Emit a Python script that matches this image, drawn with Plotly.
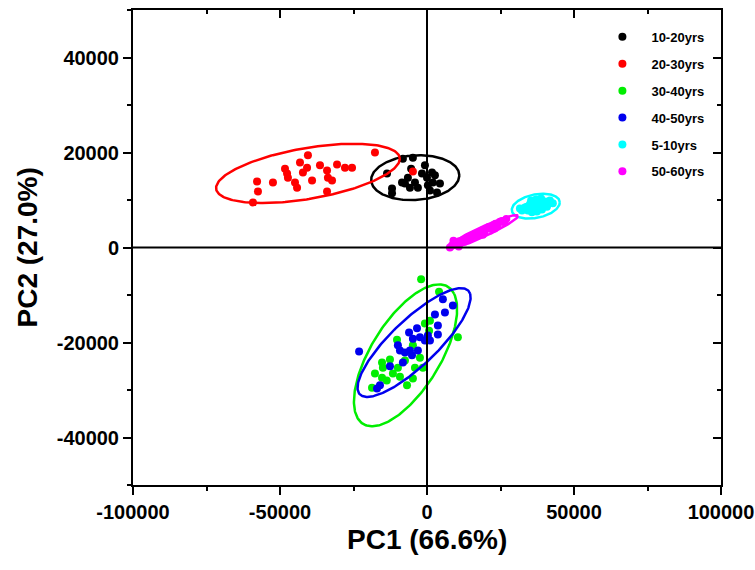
import numpy as np
import plotly.graph_objects as go

# ---------------- data ----------------
groups = ["10-20yrs", "20-30yrs", "30-40yrs", "40-50yrs", "5-10yrs", "50-60yrs"]
colors = ["#000000", "#ff0000", "#00ee00", "#0000ee", "#00ffff", "#ff00ff"]

pc1_10_20 = [-13600, -8200, -4800, -6500, -8500, -7500, -4100, -11900, -11900, -3100, 0,
             1700, 2700, 4400, 300, 1000, 3400, -5800, -1700, -5400, 2000, -700]
pc2_10_20 = [15600, 18700, 18900, 14700, 13700, 13500, 13700, 12400, 11400, 12600, 14700,
             15800, 15200, 13500, 13100, 12000, 11600, 12600, 15600, 16600, 13700, 17300]

pc1_20_30 = [-59200, -57500, -57800, -52400, -48300, -47600, -47300, -44900, -44200, -43200,
             -42200, -40500, -40800, -39100, -36400, -34000, -33700, -32300, -30600, -27900,
             -25500, -34000, -17700, -4800]
pc2_20_30 = [9500, 11800, 13900, 13700, 16600, 15600, 14700, 13700, 12600, 17900,
             15800, 19400, 16800, 14100, 17300, 16200, 14700, 14100, 17500, 16800,
             16800, 11800, 20000, 16000]

pc1_30_40 = [-2000, 4100, 1000, 700, 10500, -10200, -15300, -12600, -15000, -9900, -13700,
             -15300, -18700, -11600, -9200, -6800, -4800, -4100, -1400, -2400, -4800, -700,
             300, -17700, -7500]
pc2_30_40 = [-6700, -9300, -15400, -17500, -18900, -19400, -24200, -23600, -25300, -25300, -28000,
             -27400, -29500, -26500, -27200, -29000, -27600, -25300, -25300, -23200, -20600, -16000,
             -19200, -26500, -23800]

pc1_40_50 = [5400, 8800, 6100, 2700, 3700, 3700, 1000, -3400, -6100, -2400, -4800, -9900,
             -9200, -7500, -5800, -3100, -5100, -8200, -12600, -23100, -16000, -17000, -700, 300]
pc2_40_50 = [-10900, -12200, -13700, -14100, -16400, -18300, -19600, -17000, -17900, -18900, -19200, -20600,
             -21700, -22100, -21700, -21700, -22700, -24200, -25000, -21900, -29000, -29700, -19600, -18500]

pc1_5_10 = [33300, 35000, 36700, 38400, 40100, 34300, 36000, 37700, 39400, 41100, 32300,
            41800, 35700, 37400, 39100, 34000, 40800, 42800, 31600, 37100, 38800, 35400]
pc2_5_10 = [8400, 9100, 9300, 9500, 9700, 7800, 8200, 8400, 8800, 9100, 7800,
            9900, 7400, 7600, 8000, 8600, 8600, 9300, 8200, 10100, 10300, 9900]

pc1_50_60 = [7800, 8500, 9000, 9500, 10200, 10800, 11000, 12000, 12800, 13500, 14000, 14300,
             15000, 15800, 16500, 17200, 18000, 18800, 19000, 19500, 20300, 21000, 21800,
             22500, 23000, 23300, 24000, 24800, 25500, 26300, 27000]
pc2_50_60 = [0, 400, 1400, 900, 600, 200, 1300, 1500, 1200, 2000, 1500, 2200,
             1900, 2600, 2900, 2500, 3300, 3600, 2700, 3200, 4000, 4300, 3900,
             4700, 4000, 5000, 4600, 5400, 5600, 5300, 6000]

pc1_data = [pc1_10_20, pc1_20_30, pc1_30_40, pc1_40_50, pc1_5_10, pc1_50_60]
pc2_data = [pc2_10_20, pc2_20_30, pc2_30_40, pc2_40_50, pc2_5_10, pc2_50_60]

# confidence ellipses: centre x, centre y, semi-major, semi-minor, angle (deg)
ell_cx = [-4000, -40500, -7300, -4400, 37000, 19000]
ell_cy = [14700, 15600, -22700, -20000, 8700, 3300]
ell_a = [15000, 31400, 21000, 21650, 8200, 12400]
ell_b = [4700, 5400, 9500, 5700, 2500, 1100]
ell_ang = [2, 5.8, 38, 28.4, 6, 15.7]

x_major = [-100000, -50000, 0, 50000, 100000]
x_labels = ["-100000", "-50000", "0", "50000", "100000"]
y_major = [-40000, -20000, 0, 20000, 40000]
y_labels = ["-40000", "-20000", "0", "20000", "40000"]
x_title = "PC1 (66.6%)"
y_title = "PC2 (27.0%)"

# ---------------- figure ----------------
fig = go.Figure()
t = np.linspace(0, 2 * np.pi, 240)
for i, g in enumerate(groups):
    fig.add_trace(go.Scatter(
        x=pc1_data[i], y=pc2_data[i], mode="markers", name=g,
        legendgroup=g,
        marker=dict(color=colors[i], size=8, line=dict(width=0)),
    ))
    th = np.deg2rad(ell_ang[i])
    ex = ell_cx[i] + ell_a[i] * np.cos(th) * np.cos(t) - ell_b[i] * np.sin(th) * np.sin(t)
    ey = ell_cy[i] + ell_a[i] * np.sin(th) * np.cos(t) + ell_b[i] * np.cos(th) * np.sin(t)
    fig.add_trace(go.Scatter(
        x=ex, y=ey, mode="lines", showlegend=False, legendgroup=g,
        line=dict(color=colors[i], width=2.5), hoverinfo="skip",
    ))

# dummy trace so the mirrored (inside-tick) axes are drawn
fig.add_trace(go.Scatter(x=[None], y=[None], xaxis="x2", yaxis="y2",
                         showlegend=False, hoverinfo="skip"))

font_family = "Arial, Liberation Sans, sans-serif"
tickfont = dict(family=font_family, size=20, color="black", weight="bold")
titlefont = dict(family=font_family, size=28, color="black", weight="bold")

common = dict(showgrid=False, zeroline=False, showline=True, linecolor="black",
              linewidth=2, tickcolor="black", tickwidth=2, automargin=False)

fig.update_layout(
    width=755, height=570,
    margin=dict(l=133, r=34, t=10, b=85),
    paper_bgcolor="white", plot_bgcolor="white",
    showlegend=True,
    legend=dict(x=0.783, y=0.975, xanchor="left", yanchor="top",
                font=dict(family=font_family, size=13, color="black", weight="bold"),
                tracegroupgap=7, itemwidth=48, bgcolor="rgba(0,0,0,0)"),
    xaxis=dict(range=[-100000, 100000], tickvals=x_major, ticktext=x_labels,
               ticks="outside", ticklen=8,
               minor=dict(ticks="outside", ticklen=4, dtick=25000, tickcolor="black", tickwidth=2),
               tickfont=tickfont, **common),
    yaxis=dict(range=[-50000, 50000], tickvals=y_major, ticktext=y_labels,
               ticks="outside", ticklen=8,
               minor=dict(ticks="outside", ticklen=4, dtick=10000, tickcolor="black", tickwidth=2),
               tickfont=tickfont, **common),
    xaxis2=dict(range=[-100000, 100000], overlaying="x", side="top", anchor="y2",
                tickvals=x_major, ticks="inside", ticklen=8, showticklabels=False,
                minor=dict(ticks="inside", ticklen=4, dtick=25000, tickcolor="black", tickwidth=2),
                **common),
    yaxis2=dict(range=[-50000, 50000], overlaying="y", side="right", anchor="x2",
                tickvals=y_major, ticks="inside", ticklen=8, showticklabels=False,
                minor=dict(ticks="inside", ticklen=4, dtick=10000, tickcolor="black", tickwidth=2),
                **common),
)

# axis titles
fig.add_annotation(text=x_title, xref="paper", yref="paper", x=0.5, y=-0.1137,
                   xanchor="center", yanchor="middle", showarrow=False, font=titlefont)
fig.add_annotation(text=y_title, xref="paper", yref="paper", x=-0.1786, y=0.5,
                   xanchor="center", yanchor="middle", textangle=-90, showarrow=False,
                   font=titlefont)

# zero reference lines (drawn above the markers)
fig.add_shape(type="line", xref="x", yref="paper", x0=0, x1=0, y0=0, y1=1,
              line=dict(color="black", width=2), layer="above")
fig.add_shape(type="line", xref="paper", yref="y", x0=0, x1=1, y0=0, y1=0,
              line=dict(color="black", width=2), layer="above")

fig.write_html("out.html")
